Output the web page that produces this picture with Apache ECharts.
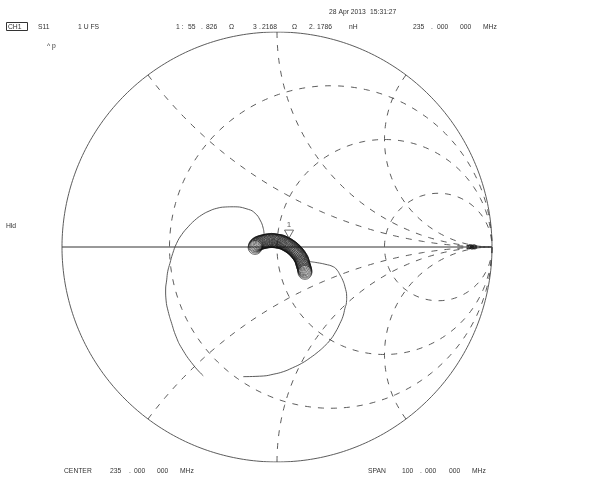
<!DOCTYPE html>
<html>
<head>
<meta charset="utf-8">
<style>
html, body { margin: 0; padding: 0; background: #fff; }
#chart { width: 608px; height: 478px; }
</style>
<script src="https://cdn.jsdelivr.net/npm/echarts@6/dist/echarts.min.js"></script>
</head>
<body>
<div id="chart"></div>
<script>
// smith chart graticule
var resistanceCircles = [1 / 3, 1, 3];
var reactanceArcs = [0.5, 1, 2, -0.5, -1, -2];

var traceInRe = [-0.343, -0.389, -0.443, -0.470, -0.490, -0.506, -0.516, -0.518, -0.513, -0.508, -0.498, -0.485, -0.467, -0.443, -0.413, -0.383, -0.350, -0.316, -0.280, -0.241, -0.203, -0.133, -0.102, -0.079, -0.064, -0.060];
var traceInIm = [-0.599, -0.549, -0.471, -0.415, -0.355, -0.300, -0.247, -0.200, -0.153, -0.113, -0.076, -0.030, 0.017, 0.058, 0.094, 0.124, 0.149, 0.167, 0.180, 0.186, 0.187, 0.175, 0.157, 0.126, 0.087, 0.056];

var traceOutRe = [0.153, 0.187, 0.223, 0.262, 0.280, 0.293, 0.306, 0.316, 0.324, 0.323, 0.316, 0.307, 0.293, 0.272, 0.247, 0.221, 0.192, 0.155, 0.115, 0.072, 0.029, -0.018, -0.064, -0.157];
var traceOutIm = [-0.068, -0.073, -0.080, -0.092, -0.108, -0.130, -0.155, -0.185, -0.231, -0.258, -0.285, -0.322, -0.355, -0.396, -0.433, -0.461, -0.487, -0.515, -0.541, -0.562, -0.580, -0.592, -0.600, -0.603];

// the dense loops in the middle of the sweep
var loopRe = [-0.102, -0.100, -0.098, -0.094, -0.090, -0.085, -0.079, -0.074, -0.068, -0.063, -0.057, -0.052, -0.047, -0.042, -0.036, -0.030, -0.025, -0.019, -0.014, -0.008, -0.003, 0.003, 0.008, 0.013, 0.019, 0.024, 0.029, 0.034, 0.039, 0.043, 0.048, 0.052, 0.057, 0.062, 0.067, 0.071, 0.076, 0.080, 0.084, 0.088, 0.091, 0.095, 0.099, 0.102, 0.105, 0.108, 0.112, 0.114, 0.116, 0.118, 0.119, 0.121, 0.122, 0.124, 0.126, 0.127, 0.129, 0.130, 0.130];
var loopIm = [-0.002, 0.004, 0.009, 0.012, 0.016, 0.018, 0.020, 0.022, 0.023, 0.025, 0.026, 0.027, 0.028, 0.029, 0.029, 0.030, 0.031, 0.030, 0.029, 0.029, 0.028, 0.027, 0.026, 0.025, 0.025, 0.022, 0.020, 0.018, 0.016, 0.013, 0.011, 0.008, 0.005, 0.002, -0.002, -0.005, -0.009, -0.013, -0.017, -0.021, -0.025, -0.029, -0.034, -0.038, -0.043, -0.048, -0.053, -0.058, -0.064, -0.069, -0.074, -0.079, -0.085, -0.090, -0.096, -0.101, -0.107, -0.112, -0.118];

// small loops near the open end of the chart
var endLoopRe = [0.893, 0.900, 0.907, 0.914, 0.920];
var endLoopIm = [0.000, 0.002, -0.001, 0.001, 0.000];

var markerRe = [0.056];
var markerIm = [0.060];

function zip(re, im) {
    return re.map(function (v, i) {
        return [v, im[i]];
    });
}

function gamma(r, x) {
    // (z - 1) / (z + 1)
    var d = (r + 1) * (r + 1) + x * x;
    return [(r * r + x * x - 1) / d, 2 * x / d];
}

function resistanceLine(r) {
    var pts = [];
    for (var i = -200; i <= 200; i++) {
        pts.push(gamma(r, Math.tan(i / 200 * 1.5705)));
    }
    return pts;
}

function reactanceLine(x) {
    var pts = [];
    for (var i = 0; i <= 200; i++) {
        pts.push(gamma(Math.tan(i / 200 * 1.5705), x));
    }
    return pts;
}

function gridSeries(data) {
    return {
        type: 'line',
        data: data,
        symbol: 'none',
        silent: true,
        z: 1,
        lineStyle: { color: '#4a4a4a', width: 0.9, type: [6, 7] }
    };
}

function solidSeries(data, smooth) {
    return {
        type: 'line',
        data: data,
        symbol: 'none',
        smooth: smooth,
        silent: true,
        z: 3,
        lineStyle: { color: '#4a4a4a', width: 0.9 }
    };
}

function ringSeries(data, size, width) {
    return {
        type: 'scatter',
        data: data,
        symbol: 'circle',
        symbolSize: size,
        silent: true,
        z: 4,
        itemStyle: { color: 'rgba(255,255,255,0)', borderColor: '#111', borderWidth: width }
    };
}

function label(text, x, y) {
    return {
        type: 'text',
        x: x,
        y: y,
        scaleX: 0.9,
        style: {
            text: text,
            fill: '#333',
            font: '7.5px "Liberation Sans", sans-serif',
            textVerticalAlign: 'middle'
        }
    };
}

var chart = echarts.init(document.getElementById('chart'));
var series = [];

resistanceCircles.forEach(function (r) {
    series.push(gridSeries(resistanceLine(r)));
});
reactanceArcs.forEach(function (x) {
    series.push(gridSeries(reactanceLine(x)));
});

// outer circle and real axis
series.push(solidSeries(resistanceLine(0), false));
series.push({
    type: 'line',
    data: [[-1, 0], [1, 0]],
    symbol: 'none',
    silent: true,
    z: 2,
    lineStyle: { color: '#333', width: 1 }
});

series.push(solidSeries(zip(traceInRe, traceInIm), 0.5));
series.push(solidSeries(zip(traceOutRe, traceOutIm), 0.5));

series.push(ringSeries(zip(loopRe, loopIm), 14, 0.75));
series.push(ringSeries(zip(endLoopRe, endLoopIm), 4, 1));

// marker 1
series.push({
    type: 'scatter',
    data: zip(markerRe, markerIm),
    symbol: 'triangle',
    symbolRotate: 180,
    symbolSize: [9, 8],
    silent: true,
    z: 5,
    itemStyle: { color: 'rgba(255,255,255,0)', borderColor: '#333', borderWidth: 0.9 },
    label: {
        show: true,
        position: 'top',
        distance: 1,
        formatter: '1',
        fontSize: 8,
        fontFamily: 'Liberation Sans',
        color: '#333'
    }
});

chart.setOption({
    animation: false,
    backgroundColor: '#fff',
    grid: { left: 62, top: 32, width: 430, height: 430 },
    xAxis: { type: 'value', min: -1, max: 1, show: false },
    yAxis: { type: 'value', min: -1, max: 1, show: false },
    series: series,
    graphic: [
        label('28 Apr 2013', 329, 12),
        label('15:31:27', 370, 12),
        {
            type: 'rect',
            shape: { x: 6.5, y: 22.5, width: 21, height: 8 },
            style: { fill: 'none', stroke: '#333', lineWidth: 1 }
        },
        label('CH1', 8, 27),
        label('S11', 38, 27),
        label('1 U FS', 78, 27),
        label('1 :', 176, 27),
        label('55', 188, 27),
        label('.', 201, 27),
        label('826', 206, 27),
        label('Ω', 229, 27),
        label('3', 253, 27),
        label('.', 259, 27),
        label('2168', 262, 27),
        label('Ω', 292, 27),
        label('2', 309, 27),
        label('.', 313, 27),
        label('1786', 317, 27),
        label('nH', 349, 27),
        label('235', 413, 27),
        label('.', 431, 27),
        label('000', 437, 27),
        label('000', 460, 27),
        label('MHz', 483, 27),
        label('^ p', 47, 46),
        label('Hld', 6, 226),
        label('CENTER', 64, 471),
        label('235', 110, 471),
        label('.', 129, 471),
        label('000', 134, 471),
        label('000', 157, 471),
        label('MHz', 180, 471),
        label('SPAN', 368, 471),
        label('100', 402, 471),
        label('.', 420, 471),
        label('000', 425, 471),
        label('000', 449, 471),
        label('MHz', 472, 471)
    ]
});
</script>
</body>
</html>
